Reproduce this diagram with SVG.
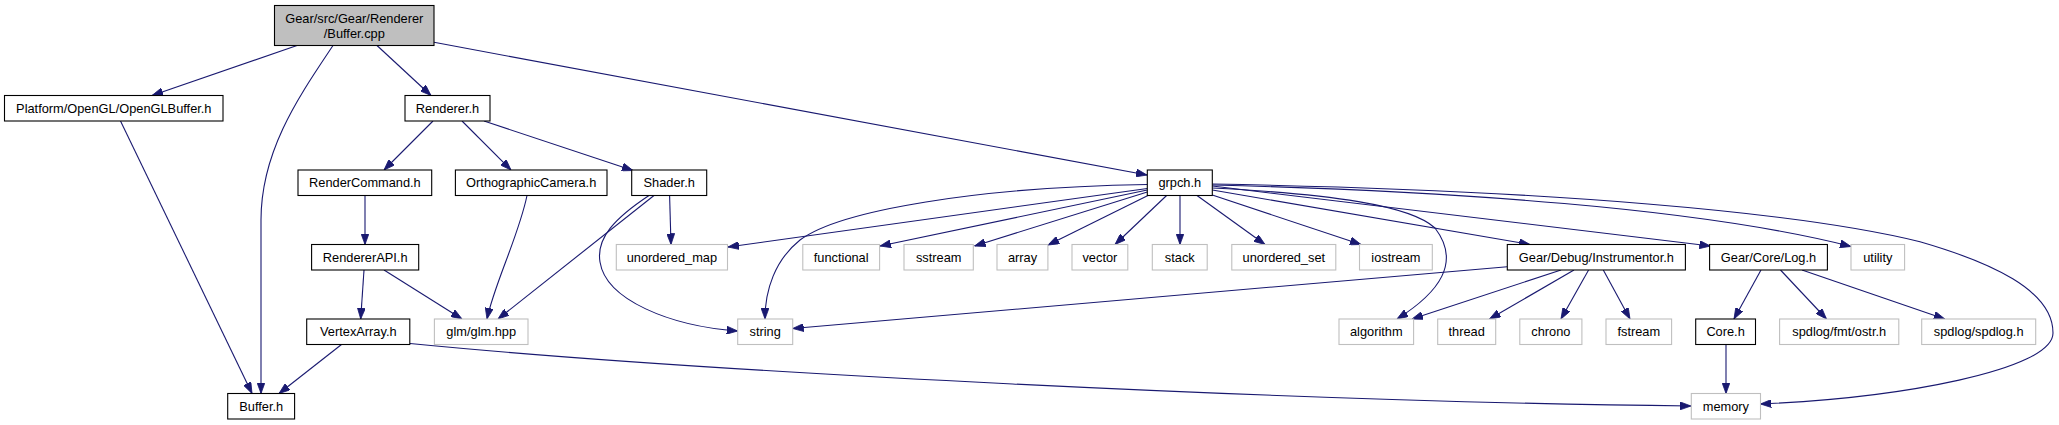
<svg xmlns="http://www.w3.org/2000/svg" width="2059" height="425" viewBox="0 0 2059 425">
<defs>
<style>
.n rect{fill:#ffffff;stroke:#000000;stroke-width:1.1}
.g rect{fill:#ffffff;stroke:#bfbfbf;stroke-width:1.1}
.m rect{fill:#bfbfbf;stroke:#000000;stroke-width:1.1}
text{font-family:"Liberation Sans",Arial,sans-serif;font-size:12.8px;text-anchor:middle;fill:#000000}
#edges path{fill:none;stroke:#191970;stroke-width:1.1;marker-end:url(#arr)}
</style>
<marker id="arr" viewBox="0 0 11 8" refX="11" refY="4" markerWidth="11" markerHeight="8" markerUnits="userSpaceOnUse" orient="auto">
<path d="M0,0 L11,4 L0,8 z" fill="#191970" stroke="#191970" stroke-width="0.8"/>
</marker>
</defs>
<rect width="2059" height="425" fill="#ffffff"/>
<g id="edges">
<path d="M297,45.5 L152,95.5"/>
<path d="M333,45.5 C300,95 261,150 261,220 L261,393.5"/>
<path d="M377,45.5 L431,95.5"/>
<path d="M434,42.3 L1147,175"/>
<path d="M120.5,121 L252,393.5"/>
<path d="M433,121 L384,170"/>
<path d="M462,121 L511,170"/>
<path d="M484,121 L633,170.5"/>
<path d="M365,195.5 L365,244.5"/>
<path d="M527,195.5 C519,235 494,285 487,319"/>
<path d="M654,195.5 L498,319"/>
<path d="M669.6,195.5 L671,244.5"/>
<path d="M649,195.5 C615,218 596,238 600,262 C606,300 670,326 737.7,331"/>
<path d="M364,270 L360.7,319"/>
<path d="M384,270 L462,319"/>
<path d="M341.5,344.5 L279,393.5"/>
<path d="M410,343.5 C700,372 1300,402 1691,406"/>
<path d="M1147.3,188.5 L728,247"/>
<path d="M1147.3,190 L880,246"/>
<path d="M1147.3,192 L974.5,246"/>
<path d="M1150,194.5 L1048,245"/>
<path d="M1166.6,195.5 L1115,244.5"/>
<path d="M1180,195.5 L1180,244.5"/>
<path d="M1197,195.5 L1265,244.5"/>
<path d="M1212.3,195 L1361,244.5"/>
<path d="M1147.3,184.5 C980,187 840,210 800,240 C775,260 765,290 765,319"/>
<path d="M1212.3,188 C1330,194 1410,205 1435,228 C1461,262 1440,292 1397,319"/>
<path d="M1212.3,190 L1530,244.5"/>
<path d="M1212.3,186 L1710.5,246"/>
<path d="M1212.3,185 C1450,191 1700,208 1851,246.5"/>
<path d="M1212.3,184 C1550,190 1800,212 1920,241.7 C1990,262 2053,290 2053,333 C2053,370 1900,398 1760.4,404"/>
<path d="M1507.3,266.7 L792.7,328.5"/>
<path d="M1561,270 L1412,319"/>
<path d="M1574,270 L1489.5,319"/>
<path d="M1588.6,270 L1561,319"/>
<path d="M1603.3,270 L1630,319"/>
<path d="M1761,270 L1734,319"/>
<path d="M1780.5,270 L1826.5,319"/>
<path d="M1802,270 L1944.8,319"/>
<path d="M1726,344.5 L1726,393.5"/>
</g>
<g id="n_buffer_cpp" class="m"><rect x="274.5" y="5.5" width="159.5" height="40"/><text x="354.3" y="22.8">Gear/src/Gear/Renderer</text><text x="354.3" y="37.8">/Buffer.cpp</text></g>
<g id="n_openglbuffer" class="n"><rect x="4.5" y="95.5" width="218.5" height="25.5"/><text x="113.8" y="112.8">Platform/OpenGL/OpenGLBuffer.h</text></g>
<g id="n_renderer" class="n"><rect x="405" y="95.5" width="85" height="25.5"/><text x="447.5" y="112.8">Renderer.h</text></g>
<g id="n_rendercommand" class="n"><rect x="298" y="170" width="133.7" height="25.5"/><text x="364.9" y="187.3">RenderCommand.h</text></g>
<g id="n_ortho" class="n"><rect x="455.4" y="170" width="151.6" height="25.5"/><text x="531.2" y="187.3">OrthographicCamera.h</text></g>
<g id="n_shader" class="n"><rect x="631.7" y="170" width="75" height="25.5"/><text x="669.2" y="187.3">Shader.h</text></g>
<g id="n_grpch" class="n"><rect x="1147.3" y="170" width="65" height="25.5"/><text x="1179.8" y="187.3">grpch.h</text></g>
<g id="n_rendererapi" class="n"><rect x="311.6" y="244.5" width="107.1" height="25.5"/><text x="365.2" y="261.8">RendererAPI.h</text></g>
<g id="n_unordered_map" class="g"><rect x="616.3" y="244.5" width="111.2" height="25.5"/><text x="671.9" y="261.8">unordered_map</text></g>
<g id="n_functional" class="g"><rect x="802.8" y="244.5" width="76.8" height="25.5"/><text x="841.2" y="261.8">functional</text></g>
<g id="n_sstream" class="g"><rect x="904" y="244.5" width="69.3" height="25.5"/><text x="938.7" y="261.8">sstream</text></g>
<g id="n_array" class="g"><rect x="997" y="244.5" width="50.9" height="25.5"/><text x="1022.5" y="261.8">array</text></g>
<g id="n_vector" class="g"><rect x="1072" y="244.5" width="55.8" height="25.5"/><text x="1099.9" y="261.8">vector</text></g>
<g id="n_stack" class="g"><rect x="1152.3" y="244.5" width="54.9" height="25.5"/><text x="1179.8" y="261.8">stack</text></g>
<g id="n_unordered_set" class="g"><rect x="1231.8" y="244.5" width="104" height="25.5"/><text x="1283.8" y="261.8">unordered_set</text></g>
<g id="n_iostream" class="g"><rect x="1359.5" y="244.5" width="72.8" height="25.5"/><text x="1395.9" y="261.8">iostream</text></g>
<g id="n_instrumentor" class="n"><rect x="1507.3" y="244.5" width="178.1" height="25.5"/><text x="1596.4" y="261.8">Gear/Debug/Instrumentor.h</text></g>
<g id="n_log" class="n"><rect x="1709.6" y="244.5" width="117.8" height="25.5"/><text x="1768.5" y="261.8">Gear/Core/Log.h</text></g>
<g id="n_utility" class="g"><rect x="1851" y="244.5" width="53.6" height="25.5"/><text x="1877.8" y="261.8">utility</text></g>
<g id="n_vertexarray" class="n"><rect x="306.7" y="319" width="103.1" height="25.5"/><text x="358.3" y="336.3">VertexArray.h</text></g>
<g id="n_glm" class="g"><rect x="434.4" y="319" width="93.6" height="25.5"/><text x="481.2" y="336.3">glm/glm.hpp</text></g>
<g id="n_string" class="g"><rect x="737.7" y="319" width="55" height="25.5"/><text x="765.2" y="336.3">string</text></g>
<g id="n_algorithm" class="g"><rect x="1339" y="319" width="74.6" height="25.5"/><text x="1376.3" y="336.3">algorithm</text></g>
<g id="n_thread" class="g"><rect x="1437.7" y="319" width="58" height="25.5"/><text x="1466.7" y="336.3">thread</text></g>
<g id="n_chrono" class="g"><rect x="1519.8" y="319" width="62.1" height="25.5"/><text x="1550.9" y="336.3">chrono</text></g>
<g id="n_fstream" class="g"><rect x="1606" y="319" width="65.6" height="25.5"/><text x="1638.8" y="336.3">fstream</text></g>
<g id="n_core" class="n"><rect x="1695.7" y="319" width="59.8" height="25.5"/><text x="1725.6" y="336.3">Core.h</text></g>
<g id="n_ostr" class="g"><rect x="1779.6" y="319" width="119.2" height="25.5"/><text x="1839.2" y="336.3">spdlog/fmt/ostr.h</text></g>
<g id="n_spdlog" class="g"><rect x="1921.7" y="319" width="114" height="25.5"/><text x="1978.7" y="336.3">spdlog/spdlog.h</text></g>
<g id="n_buffer_h" class="n"><rect x="227.7" y="393.5" width="66.9" height="25.5"/><text x="261.2" y="410.8">Buffer.h</text></g>
<g id="n_memory" class="g"><rect x="1691.3" y="393.5" width="69.2" height="25.5"/><text x="1725.9" y="410.8">memory</text></g>
</svg>
